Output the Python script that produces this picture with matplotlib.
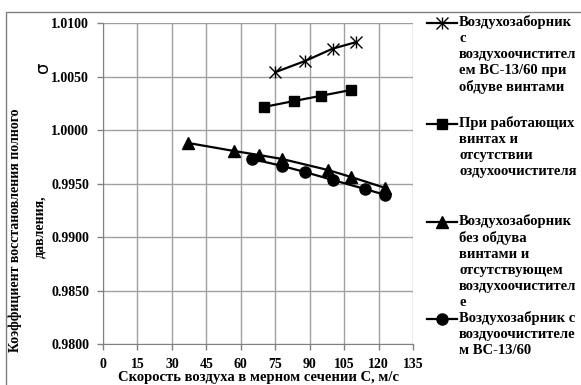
import matplotlib
matplotlib.use("Agg")
import matplotlib.pyplot as plt
from matplotlib.lines import Line2D
from matplotlib.patches import Rectangle

plt.rcParams['font.family'] = ['Liberation Serif', 'DejaVu Serif']

# данные
c_star = [75, 88, 100, 110]
s_star = [1.0054, 1.00645, 1.0076, 1.0082]

c_sq = [70, 83, 95, 108]
s_sq = [1.00215, 1.0027, 1.0032, 1.00374]

c_tri = [37, 57, 68, 78, 98, 108, 123]
s_tri = [0.99879, 0.99804, 0.99766, 0.99729, 0.99626, 0.99561, 0.99458]

c_circ = [65, 78, 88, 100, 114, 123]
s_circ = [0.99729, 0.99664, 0.99607, 0.99533, 0.99449, 0.99393]

x_ticks = list(range(0, 136, 15))
y_ticks = [0.9800, 0.9850, 0.9900, 0.9950, 1.0000, 1.0050, 1.0100]

labels = [
    "Воздухозаборник\nс\nвоздухоочистител\nем ВС-13/60 при\nобдуве винтами",
    "При работающих\nвинтах и\nотсутствии\nоздухоочистителя",
    "Воздухозаборник\nбез обдува\nвинтами и\nотсутствующем\nвоздухоочистител\nе",
    "Воздухозабрник с\nвоздуоочистителе\nм ВС-13/60",
]

W, H = 581, 385
fig = plt.figure(figsize=(W / 100, H / 100), dpi=100)
ax = fig.add_axes([103 / W, 1 - 344 / H, (413 - 103) / W, (344 - 23) / H])

# рамка области диаграммы
fig.patches.append(Rectangle((6 / W, -0.1), 1.2, 1.1 - 12 / H, transform=fig.transFigure,
                             fill=False, edgecolor='#808080', linewidth=1.0))

lw = 1.6
ax.plot(c_star, s_star, color='black', lw=lw, marker='x', ms=8, mew=1.0)
ax.plot(c_star, s_star, color='black', lw=0, marker='|', ms=8, mew=1.0)
ax.plot(c_sq, s_sq, color='black', lw=lw, marker='s', ms=7)
ax.plot(c_tri, s_tri, color='black', lw=lw, marker='^', ms=8)
ax.plot(c_circ, s_circ, color='black', lw=lw, marker='o', ms=8)

ax.set_xlim(0, 135)
ax.set_ylim(0.98, 1.01)
ax.set_xticks(x_ticks)
ax.set_yticks(y_ticks)
ax.set_xticklabels([str(v) for v in x_ticks], fontsize=10, fontweight='bold')
ax.set_yticklabels([f"{v:.4f}" for v in y_ticks], fontsize=10, fontweight='bold')
ax.grid(True, color='#a0a0a0', linewidth=1.0)
ax.set_axisbelow(True)
for side in ['top', 'right']:
    ax.spines[side].set_visible(False)
for side in ['left', 'bottom']:
    ax.spines[side].set_color('#808080')
ax.tick_params(direction='out', length=4, color='#808080', width=1.0)
ax.tick_params(axis='y', pad=6)
ax.tick_params(axis='x', pad=6)

ax.set_xlabel("Скорость воздуха в мерном сечении С, м/с", fontsize=10.5,
              fontweight='bold', labelpad=0)

fig.text(15 / W, 1 - 230 / H, "Коэффициент восстановления полного", rotation=90,
         fontsize=10, fontweight='bold', ha='center', va='center')
fig.text(40 / W, 1 - 227 / H, "давления,", rotation=90,
         fontsize=10, fontweight='bold', ha='center', va='center')
fig.text(43 / W, 1 - 67 / H, "σ", rotation=90, fontsize=13,
         ha='center', va='center', family=['DejaVu Sans'])

# легенда
markers = ['x', 's', '^', 'o']
sizes = [8, 7, 8, 8]
tops = [23, 124, 222, 319]
for lab, m, ms, yt in zip(labels, markers, sizes, tops):
    yf = 1 - yt / H
    fig.add_artist(Line2D([427 / W, 457 / W], [yf, yf], color='black', lw=lw,
                          transform=fig.transFigure))
    fig.add_artist(Line2D([442 / W], [yf], color='black', marker=m, ms=ms,
                          mew=1.0, transform=fig.transFigure))
    if m == 'x':
        fig.add_artist(Line2D([442 / W], [yf], color='black', marker='|', ms=ms,
                              mew=1.0, transform=fig.transFigure))
    fig.text(459 / W, yf + 8 / H, lab, fontsize=10.5, fontweight='bold',
             ha='left', va='top', linespacing=1.3)

fig.savefig("out.png", dpi=100)
